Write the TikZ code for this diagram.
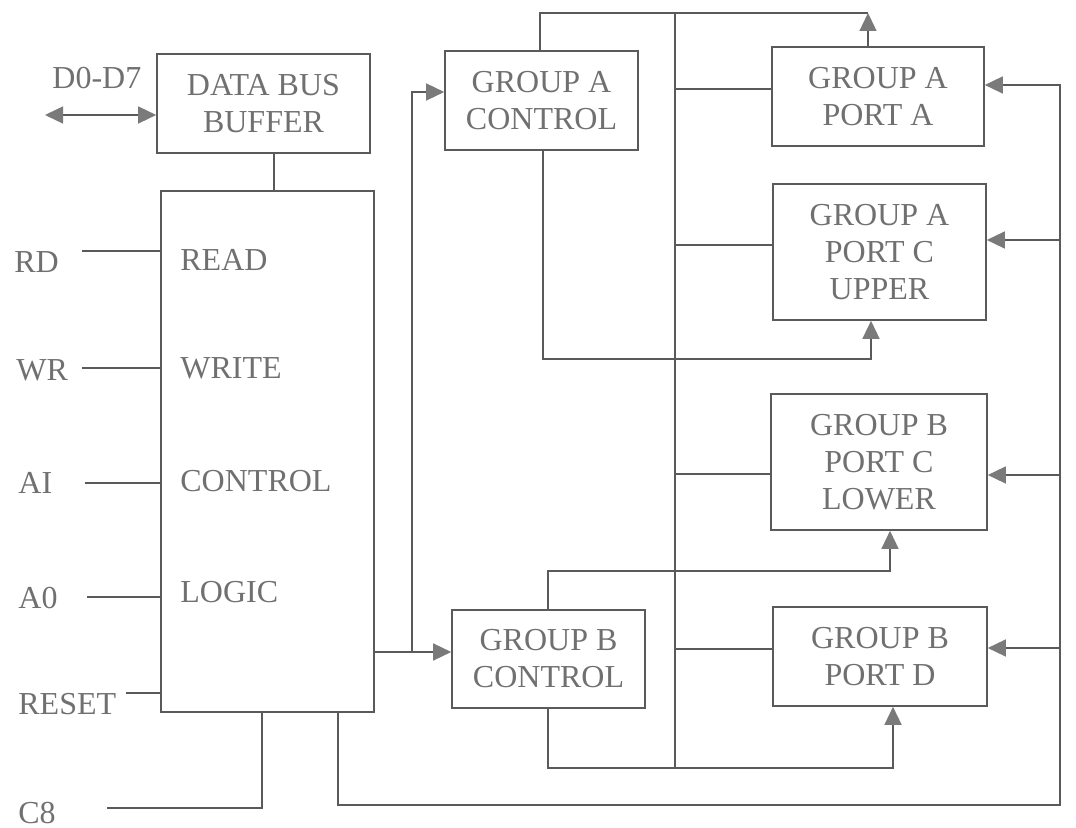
\documentclass[tikz,border=0pt]{standalone}
\usepackage{fontspec}
\setmainfont{Liberation Serif}
\usetikzlibrary{arrows.meta}
\definecolor{ln}{HTML}{5A5A5A}
\definecolor{tx}{HTML}{707070}
\definecolor{ah}{HTML}{7A7A7A}
\begin{document}
\begin{tikzpicture}[x=0.5pt,y=-0.5pt,
  box/.style={draw=ln,line width=0.8pt,fill=none,text=tx,align=center,inner sep=0pt,
    font=\fontsize{16}{18.5}\selectfont},
  lbl/.style={text=tx,inner sep=0pt,anchor=west,font=\fontsize{16}{18.5}\selectfont},
  wire/.style={draw=ln,line width=0.7pt},
  arr/.style={wire,-{Triangle[length=9pt,width=8.5pt,fill=ah,color=ah]}},
  darr/.style={wire,{Triangle[length=9pt,width=8.5pt,fill=ah,color=ah]}-{Triangle[length=9pt,width=8.5pt,fill=ah,color=ah]}}]
\useasboundingbox (0,0) rectangle (1076,828);
% boxes
\node[box,minimum width=106.5pt,minimum height=49.5pt] (dbb) at (263.5,103.5) {DATA BUS\\BUFFER};
\node[box,minimum width=106.5pt,minimum height=260.5pt] (ctl) at (267.5,451.5) {};
\node[box,minimum width=96.5pt,minimum height=49.5pt] (gac) at (541.5,100.5) {GROUP A\\CONTROL};
\node[box,minimum width=96.5pt,minimum height=49pt] (gbc) at (548.5,659) {GROUP B\\CONTROL};
\node[box,minimum width=106pt,minimum height=49.5pt] (pa) at (878,96.5) {GROUP A\\PORT A};
\node[box,minimum width=106.5pt,minimum height=68pt] (pcu) at (879.5,252) {GROUP A\\PORT C\\UPPER};
\node[box,minimum width=108pt,minimum height=68pt] (pcl) at (879,462) {GROUP B\\PORT C\\LOWER};
\node[box,minimum width=107pt,minimum height=49.5pt] (pd) at (880,656.5) {GROUP B\\PORT D};
% inner labels
\node[lbl] (tREAD) at (180,260) {READ};
\node[lbl] (tWRITE) at (180,368) {WRITE};
\node[lbl] (tCTRL) at (180,481) {CONTROL};
\node[lbl] (tLOGIC) at (180,592) {LOGIC};
% outer labels
\node[lbl] (lD) at (52,78) {D0-D7};
\node[lbl] (lRD) at (14,262) {RD};
\node[lbl] (lWR) at (16,370) {WR};
\node[lbl] (lAI) at (18,483) {AI};
\node[lbl] (lA0) at (18,598) {A0};
\node[lbl] (lRST) at (18,704) {RESET};
\node[lbl] (lC8) at (18,813) {C8};
% data bus arrow
\coordinate (dS) at (45,115);
\draw[darr] (dS) -- (dS -| dbb.west);
% input lines
\coordinate (rdS) at (82,251);
\coordinate (wrS) at (82,368);
\coordinate (aiS) at (85,483);
\coordinate (a0S) at (87,597);
\coordinate (rsS) at (126,693);
\coordinate (c8S) at (107,808);
\draw[wire] (rdS) -- (rdS -| ctl.west);
\draw[wire] (wrS) -- (wrS -| ctl.west);
\draw[wire] (aiS) -- (aiS -| ctl.west);
\draw[wire] (a0S) -- (a0S -| ctl.west);
\draw[wire] (rsS) -- (rsS -| ctl.west);
\draw[wire] (c8S) -- (262,808) -- (ctl.south -| 262,0);
% buffer to logic
\draw[wire] (dbb.south -| 274,0) -- (ctl.north -| 274,0);
% logic to controls
\coordinate (jB) at (412,652);
\coordinate (jA) at (412,92);
\draw[arr] (ctl.east |- jB) -- (gbc.west |- jB);
\draw[arr] (jB) -- (jA) -- (gac.west |- jA);
% top line
\coordinate (t1) at (540,13);
\coordinate (t2) at (868,13);
\draw[wire] (gac.north -| t1) -- (t1) -- (t2);
\draw[arr] (pa.north -| t2) -- (t2);
% main bus
\coordinate (busT) at (675,13);
\coordinate (busB) at (675,768);
\draw[wire] (busT) -- (busB);
\draw[wire] (675,89) -- (pa.west |- 0,89);
\draw[wire] (675,245) -- (pcu.west |- 0,245);
\draw[wire] (675,474) -- (pcl.west |- 0,474);
\draw[wire] (675,649) -- (pd.west |- 0,649);
% group A control to port C upper
\coordinate (c1) at (543,359);
\draw[arr] (gac.south -| c1) -- (c1) -- (871,359) -- (pcu.south -| 871,0);
% group B control to port C lower
\coordinate (c2) at (548,571);
\draw[arr] (gbc.north -| c2) -- (c2) -- (890,571) -- (pcl.south -| 890,0);
% group B control to port D
\coordinate (c3) at (548,768);
\draw[arr] (gbc.south -| c3) -- (c3) -- (893,768) -- (pd.south -| 893,0);
% right bus from logic
\coordinate (r1) at (338,805);
\coordinate (r2) at (1060,805);
\coordinate (r3) at (1060,85);
\draw[arr] (ctl.south -| r1) -- (r1) -- (r2) -- (r3) -- (pa.east |- r3);
\draw[arr] (1060,240) -- (pcu.east |- 0,240);
\draw[arr] (1060,475) -- (pcl.east |- 0,475);
\draw[arr] (1060,648) -- (pd.east |- 0,648);
\end{tikzpicture}
\end{document}
